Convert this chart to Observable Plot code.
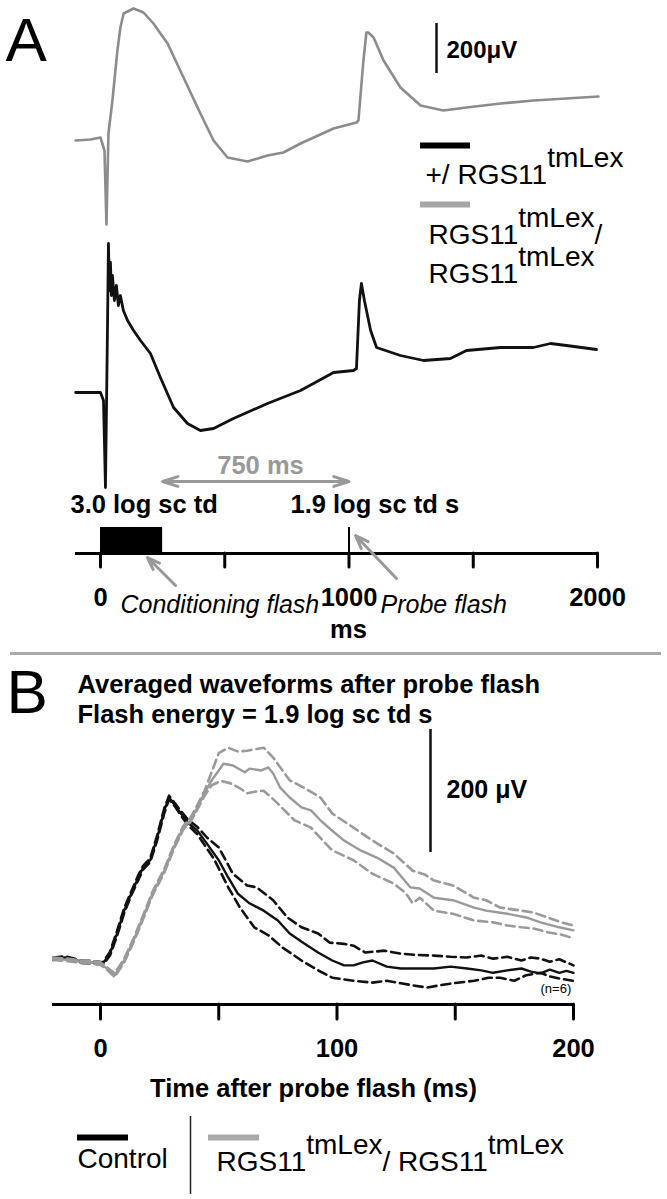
<!DOCTYPE html>
<html>
<head>
<meta charset="utf-8">
<script src="https://cdn.jsdelivr.net/npm/d3@7"></script>
<script src="https://cdn.jsdelivr.net/npm/@observablehq/plot@0.6"></script>
<style>
  html, body { margin: 0; padding: 0; background: #fff; }
  #wrap { width: 667px; }
  #divider { height: 3px; width: 651px; margin-left: 10px; background: #a9a9a9; }
  svg { display: block; }
</style>
</head>
<body>
<div id="wrap">
  <div id="panelA"></div>
  <div id="divider"></div>
  <div id="panelB"></div>
</div>
<script>
// ---------------- DATA: panel A (single recordings, time in ms, amplitude in µV) ----------------
const grayA_t = [-100, -40, 0, 16, 24, 32, 48, 68, 80, 93, 133, 173, 213, 270, 334, 402, 455, 511, 592, 672, 736, 805, 938, 1030, 1038, 1058, 1070, 1078, 1099, 1139, 1207, 1288, 1380, 1473, 1610, 1742, 1875, 2004];
const grayA_v = [0, 4, 12, -40, -336, 28, 160, 360, 452, 508, 528, 512, 468, 388, 252, 108, 0, -68, -84, -60, -48, -12, 48, 72, 80, 320, 432, 432, 412, 320, 212, 140, 120, 132, 148, 160, 168, 176];
const blackA_t = [-100, 0, 12, 20, 28, 32, 36, 40, 44, 48, 56, 64, 72, 80, 92, 109, 133, 161, 201, 241, 294, 350, 402, 455, 535, 672, 805, 938, 1018, 1030, 1042, 1050, 1062, 1087, 1111, 1207, 1300, 1408, 1473, 1610, 1742, 1811, 1875, 1996];
const blackA_v = [0, 0, -32, -380, 248, 596, 408, 520, 388, 468, 368, 428, 348, 388, 328, 288, 248, 208, 156, 60, -60, -124, -152, -144, -104, -44, 8, 80, 88, 96, 368, 436, 368, 248, 180, 148, 128, 136, 168, 180, 180, 196, 188, 172];
const grayOffsetA = 1008;            // vertical display offset of the upper trace (µV)
const conditioningFlash = [{start: 0, end: 250}];   // ms
const probeFlash = [1000];                           // ms
const timelineTicksA = [0, 500, 1000, 1500, 2000];

// ---------------- DATA: panel B (averaged waveforms, ms / µV) ----------------
const ctrlMean_t = [-20, -15, -8, -3, 1, 4, 7, 10, 13, 16, 18, 21, 24, 27, 29, 31, 34, 37, 41, 45, 50, 54, 58, 63, 69, 75, 80, 86, 92, 98, 103, 107, 111, 115, 121, 127, 134, 141, 148, 155, 161, 166, 172, 178, 182, 186, 190, 194, 197, 200];
const ctrlMean_v = [3, 5, -2, -3, -5, 11, 44, 81, 109, 135, 151, 163, 200, 244, 265, 255, 239, 224, 211, 190, 163, 135, 109, 93, 81, 65, 44, 28, 13, 0, -8, -8, -3, 0, -10, -13, -13, -13, -10, -13, -16, -20, -16, -13, -18, -21, -15, -20, -17, -20];
const ctrlUpper_t = [-20, -15, -8, -3, 1, 4, 7, 10, 13, 16, 18, 21, 24, 27, 29, 31, 34, 37, 41, 45, 50, 56, 62, 66, 73, 79, 85, 92, 97, 103, 107, 112, 120, 127, 134, 141, 148, 155, 161, 166, 172, 178, 182, 186, 190, 194, 200];
const ctrlUpper_v = [5, 7, 0, -1, -3, 14, 48, 85, 112, 139, 154, 166, 204, 248, 268, 258, 243, 229, 217, 200, 184, 141, 122, 119, 98, 70, 54, 44, 29, 27, 24, 13, 16, 11, 9, 8, 6, 5, 8, 3, 6, 0, 5, 3, -2, 2, -8];
const ctrlLower_t = [-20, -15, -8, -3, 1, 4, 7, 10, 13, 16, 18, 21, 24, 27, 29, 31, 34, 37, 41, 48, 54, 59, 65, 71, 77, 85, 92, 98, 107, 115, 121, 127, 133, 138, 144, 149, 158, 164, 169, 175, 180, 186, 190, 195, 200];
const ctrlLower_v = [1, 3, -4, -5, -7, 8, 40, 77, 106, 131, 148, 160, 196, 240, 262, 253, 236, 220, 205, 165, 119, 86, 54, 41, 21, 0, -16, -28, -33, -36, -33, -37, -41, -44, -40, -37, -33, -28, -28, -33, -24, -20, -26, -30, -33];

const rgsMean_t = [-20, -14, -8, -3, 0, 3, 6, 10, 14, 18, 22, 27, 31, 35, 38, 41, 44, 47, 50, 52, 56, 61, 63, 68, 71, 73, 76, 80, 85, 89, 93, 98, 103, 110, 117, 124, 131, 135, 141, 149, 158, 163, 172, 180, 186, 194, 200];
const rgsMean_v = [3, 1, -2, -3, -5, -14, -24, 0, 33, 70, 109, 146, 184, 216, 228, 249, 272, 293, 309, 320, 317, 306, 312, 309, 314, 304, 281, 265, 249, 244, 228, 211, 195, 179, 167, 151, 119, 117, 102, 98, 86, 81, 76, 70, 62, 54, 49];
const rgsUpper_t = [-20, -14, -8, -3, 0, 3, 6, 10, 14, 18, 22, 27, 31, 35, 38, 41, 44, 50, 54, 58, 62, 66, 69, 73, 80, 86, 93, 98, 107, 115, 124, 132, 137, 141, 149, 158, 163, 169, 178, 183, 189, 195, 200];
const rgsUpper_v = [5, 3, 0, -1, -3, -12, -21, 3, 36, 73, 112, 149, 187, 219, 232, 253, 276, 337, 346, 340, 341, 344, 346, 330, 293, 281, 265, 239, 216, 195, 174, 146, 140, 130, 122, 102, 98, 86, 81, 78, 70, 62, 57];
const rgsLower_t = [-20, -14, -8, -3, 0, 3, 6, 10, 14, 18, 22, 27, 31, 35, 38, 41, 44, 47, 51, 55, 59, 62, 66, 69, 72, 75, 82, 89, 94, 98, 107, 115, 124, 129, 132, 135, 141, 149, 158, 166, 172, 178, 183, 189, 195, 200];
const rgsLower_v = [1, -1, -4, -5, -7, -16, -27, -3, 30, 67, 106, 143, 181, 213, 225, 246, 268, 285, 292, 288, 280, 272, 275, 276, 266, 255, 228, 216, 195, 179, 163, 141, 125, 110, 93, 102, 81, 76, 65, 62, 57, 54, 52, 46, 42, 36];
const ticksB = [0, 50, 100, 150, 200];

// ---------------- helpers ----------------
const zip = (ts, vs) => ts.map((t, i) => ({t, v: vs[i]}));
const FONT = "'Liberation Sans', Arial, Helvetica, sans-serif";
const BLACK = "#111";
const GRAY_A = "#8c8c8c";
const GRAY_B = "#9a9a9a";
const GRAY_ANN = "#999";

function supify(svg) {
  svg.querySelectorAll("text").forEach(t => {
    const s = t.textContent;
    if (!s.includes("^{")) return;
    t.textContent = "";
    const parts = s.split(/(\^\{[^}]*\})/);
    let raised = false;
    for (const p of parts) {
      if (!p) continue;
      const ts = document.createElementNS("http://www.w3.org/2000/svg", "tspan");
      if (p.startsWith("^{")) {
        ts.textContent = p.slice(2, -1);
        ts.setAttribute("dy", "-0.6em");
        raised = true;
      } else {
        ts.textContent = p;
        if (raised) { ts.setAttribute("dy", "0.6em"); raised = false; }
      }
      t.appendChild(ts);
    }
  });
}

// ---------------- Panel A ----------------
const HA = 652;
// pixel -> data helpers used only to place annotations
const xA = px => (px - 100) / 0.2485;
const yA = py => (392 - py) / 0.25;
const bold = {fontWeight: "bold", fontSize: 25.5};

const grayA = zip(grayA_t, grayA_v);
const blackA = zip(blackA_t, blackA_v);

const plotA = Plot.plot({
  width: 667, height: HA,
  marginLeft: 75, marginRight: 69, marginTop: 0, marginBottom: HA - 553,
  style: {fontFamily: FONT, background: "#fff", overflow: "visible"},
  x: {domain: [0, 2000], range: [100, 597], axis: null, label: null},
  y: {domain: [0, 1000], range: [392, 142], axis: null, label: null},
  marks: [
    Plot.line(grayA, {x: "t", y: d => d.v + grayOffsetA, stroke: GRAY_A, strokeWidth: 2.6, strokeLinejoin: "round"}),
    Plot.line(blackA, {x: "t", y: "v", stroke: BLACK, strokeWidth: 2.8, strokeLinejoin: "round"}),
    // scale bar 200 µV
    Plot.ruleX([0], {x: xA(436), y1: yA(73), y2: yA(73) + 200, stroke: BLACK, strokeWidth: 2.5}),
    Plot.text(["200\u03BCV"], {x: xA(446), y: yA(57), textAnchor: "start", lineAnchor: "bottom", ...bold, fontSize: 24}),
    // legend
    Plot.ruleY([0], {y: yA(145), x1: xA(420), x2: xA(470), stroke: "#000", strokeWidth: 6}),
    Plot.ruleY([0], {y: yA(204), x1: xA(420), x2: xA(470), stroke: "#a6a6a6", strokeWidth: 6}),
    Plot.text(["+/ RGS11^{tmLex}"], {x: xA(425), y: yA(183), textAnchor: "start", lineAnchor: "bottom", fontSize: 28}),
    Plot.text(["RGS11^{tmLex}/"], {x: xA(428), y: yA(243), textAnchor: "start", lineAnchor: "bottom", fontSize: 28}),
    Plot.text(["RGS11^{tmLex}"], {x: xA(428), y: yA(282), textAnchor: "start", lineAnchor: "bottom", fontSize: 28}),
    // panel letter
    Plot.text(["A"], {x: xA(5), y: yA(60), textAnchor: "start", lineAnchor: "bottom", fontSize: 62}),
    // 750 ms interval
    Plot.text(["750 ms"], {x: xA(260), y: yA(473), lineAnchor: "bottom", ...bold, fill: GRAY_ANN}),
    Plot.arrow([{from: 625, to: 250}, {from: 625, to: 1000}], {x1: "from", x2: "to", y1: yA(481), y2: yA(481), stroke: GRAY_ANN, strokeWidth: 3, headAngle: 36, headLength: 8}),
    // flash energies
    Plot.text(["3.0 log sc td"], {x: xA(70), y: yA(512), textAnchor: "start", lineAnchor: "bottom", ...bold}),
    Plot.text(["1.9 log sc td s"], {x: xA(290), y: yA(512), textAnchor: "start", lineAnchor: "bottom", ...bold}),
    // stimulus timeline
    Plot.rect(conditioningFlash, {x1: "start", x2: "end", y1: yA(553), y2: yA(527), fill: "#000"}),
    Plot.ruleX(probeFlash, {y1: yA(553), y2: yA(527), stroke: "#000", strokeWidth: 2}),
    Plot.ruleY([0], {y: yA(553), x1: xA(75), x2: xA(598), stroke: "#000", strokeWidth: 3}),
    Plot.axisX({ticks: timelineTicksA, tickSize: 14, tickPadding: 20, strokeWidth: 3, strokeLinecap: "round", label: null,
      tickFormat: d => (d % 1000 === 0 ? String(d) : ""), ...bold, fill: "#000", stroke: "#000"}),
    Plot.text(["ms"], {x: xA(348), y: yA(637), lineAnchor: "bottom", ...bold}),
    // flash labels + pointers
    Plot.text(["Conditioning flash"], {x: xA(120), y: yA(612), textAnchor: "start", lineAnchor: "bottom", fontSize: 25, fontStyle: "italic"}),
    Plot.text(["Probe flash"], {x: xA(380), y: yA(612), textAnchor: "start", lineAnchor: "bottom", fontSize: 25, fontStyle: "italic"}),
    Plot.arrow([0], {x1: xA(175), y1: yA(585), x2: xA(147), y2: yA(557), stroke: GRAY_ANN, strokeWidth: 3, headAngle: 40, headLength: 7}),
    Plot.arrow([0], {x1: xA(396), y1: yA(578), x2: xA(355), y2: yA(535), stroke: GRAY_ANN, strokeWidth: 3, headAngle: 40, headLength: 7})
  ]
});
supify(plotA);
document.getElementById("panelA").appendChild(plotA);

// ---------------- Panel B ----------------
const TOPB = 655;
const HB = 1199 - TOPB;
const xB = px => (px - 100) / 2.365;
const yB = py => (960 - py) / 0.615;

const ctrlMean = zip(ctrlMean_t, ctrlMean_v);
const ctrlUpper = zip(ctrlUpper_t, ctrlUpper_v);
const ctrlLower = zip(ctrlLower_t, ctrlLower_v);
const rgsMean = zip(rgsMean_t, rgsMean_v);
const rgsUpper = zip(rgsUpper_t, rgsUpper_v);
const rgsLower = zip(rgsLower_t, rgsLower_v);
const dash = {strokeDasharray: "9,5", strokeWidth: 2.6, strokeLinejoin: "round"};

const plotB = Plot.plot({
  width: 667, height: HB,
  marginLeft: 52, marginRight: 93, marginTop: 0, marginBottom: HB - (1004 - TOPB),
  style: {fontFamily: FONT, background: "#fff", overflow: "visible"},
  x: {domain: [0, 200], range: [100, 573], axis: null, label: null},
  y: {domain: [0, 200], range: [960 - TOPB, 960 - TOPB - 123], axis: null, label: null},
  marks: [
    Plot.line(ctrlUpper, {x: "t", y: "v", stroke: BLACK, ...dash}),
    Plot.line(ctrlLower, {x: "t", y: "v", stroke: BLACK, ...dash}),
    Plot.line(ctrlMean, {x: "t", y: "v", stroke: BLACK, strokeWidth: 2.4, strokeLinejoin: "round"}),
    Plot.line(rgsUpper, {x: "t", y: "v", stroke: GRAY_B, ...dash}),
    Plot.line(rgsLower, {x: "t", y: "v", stroke: GRAY_B, ...dash}),
    Plot.line(rgsMean, {x: "t", y: "v", stroke: GRAY_B, strokeWidth: 2.4, strokeLinejoin: "round"}),
    // panel letter and title
    Plot.text(["B"], {x: xB(6), y: yB(712), textAnchor: "start", lineAnchor: "bottom", fontSize: 62}),
    Plot.text(["Averaged waveforms after probe flash"], {x: xB(77), y: yB(692), textAnchor: "start", lineAnchor: "bottom", ...bold}),
    Plot.text(["Flash energy = 1.9 log sc td s"], {x: xB(77), y: yB(722), textAnchor: "start", lineAnchor: "bottom", ...bold}),
    // scale bar
    Plot.ruleX([0], {x: xB(430), y1: yB(852), y2: yB(852) + 200, stroke: BLACK, strokeWidth: 2.5}),
    Plot.text(["200 \u03BCV"], {x: xB(446), y: yB(797), textAnchor: "start", lineAnchor: "bottom", ...bold, fontSize: 25}),
    Plot.text(["(n=6)"], {x: xB(540), y: yB(992), textAnchor: "start", lineAnchor: "bottom", fontSize: 13}),
    // axis
    Plot.ruleY([0], {y: yB(1004), x1: xB(52), x2: xB(574), stroke: "#000", strokeWidth: 3}),
    Plot.axisX({ticks: ticksB, tickSize: 15, tickPadding: 19, strokeWidth: 3, strokeLinecap: "round", label: null,
      tickFormat: d => (d % 100 === 0 ? String(d) : ""), ...bold, fill: "#000", stroke: "#000"}),
    Plot.text(["Time after probe flash (ms)"], {x: xB(313), y: yB(1096), lineAnchor: "bottom", ...bold}),
    // legend
    Plot.ruleY([0], {y: yB(1137), x1: xB(77), x2: xB(128), stroke: "#000", strokeWidth: 6}),
    Plot.text(["Control"], {x: xB(77), y: yB(1167), textAnchor: "start", lineAnchor: "bottom", fontSize: 28}),
    Plot.ruleX([0], {x: xB(190), y1: yB(1194), y2: yB(1116), stroke: "#222", strokeWidth: 1.5}),
    Plot.ruleY([0], {y: yB(1137), x1: xB(208), x2: xB(259), stroke: "#aaa", strokeWidth: 6}),
    Plot.text(["RGS11^{tmLex}/ RGS11^{tmLex}"], {x: xB(216), y: yB(1170), textAnchor: "start", lineAnchor: "bottom", fontSize: 28})
  ]
});
supify(plotB);
document.getElementById("panelB").appendChild(plotB);
</script>
</body>
</html>
